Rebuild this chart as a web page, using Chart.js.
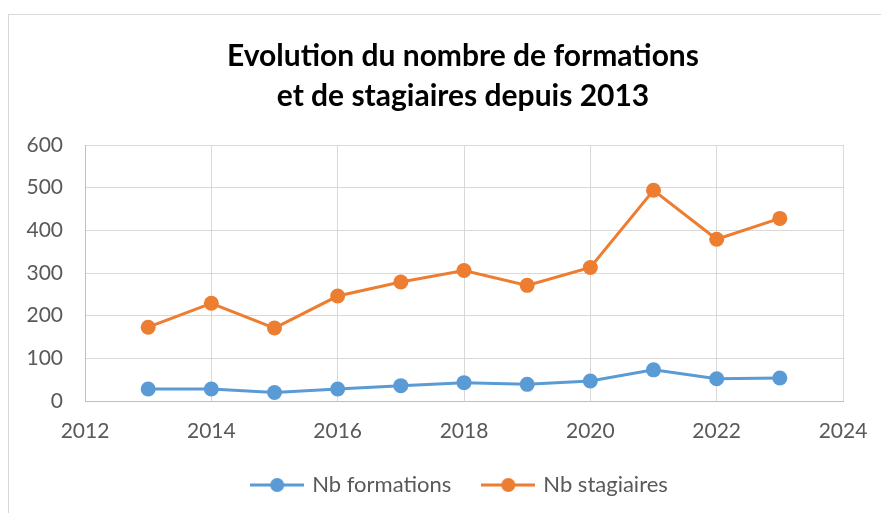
<!DOCTYPE html>
<html>
<head>
<meta charset="utf-8">
<script src="https://cdn.jsdelivr.net/npm/chart.js@4.4.1/dist/chart.umd.min.js"></script>
<style>
  body { margin: 0; background: #fff; }
  #chart { display: block; }
</style>
</head>
<body>
<canvas id="chart" width="881" height="513"></canvas>
<script>
// ---------- DATA ----------
const years = [2013, 2014, 2015, 2016, 2017, 2018, 2019, 2020, 2021, 2022, 2023];
const nbFormations = [28, 28, 20, 28, 36, 43, 39, 47, 73, 52, 54];
const nbStagiaires = [173, 229, 171, 246, 279, 306, 271, 313, 494, 379, 428];
const xTicks = [2012, 2014, 2016, 2018, 2020, 2022, 2024];
const yTicks = [0, 100, 200, 300, 400, 500, 600];
const titleLines = ["Evolution du nombre de formations", "et de stagiaires depuis 2013"];

const BLUE = "#5B9BD5";
const ORANGE = "#ED7D31";
const FONT = "Lato, 'Open Sans', sans-serif";

// ---------- LEGEND MARKER (line + dot) ----------
function legendMarker(color) {
    const c = document.createElement("canvas");
    c.width = 54;
    c.height = 16;
    const g = c.getContext("2d");
    g.strokeStyle = color;
    g.lineWidth = 3;
    g.beginPath();
    g.moveTo(0, 8);
    g.lineTo(54, 8);
    g.stroke();
    g.fillStyle = color;
    g.beginPath();
    g.arc(27, 8, 7, 0, Math.PI * 2);
    g.fill();
    return c;
}

// ---------- OUTER FRAME + CENTERING ----------
const framePlugin = {
    id: "frame",
    afterLayout(chart) {
        // title / legend are centred on the whole frame, not on the padded box
        if (chart.titleBlock) { chart.titleBlock.left = 45; chart.titleBlock.right = 881; }
        if (chart.legend) { chart.legend.left += 10; chart.legend.right += 10; }
    },
    beforeDraw(chart) {
        const ctx = chart.ctx;
        ctx.save();
        ctx.strokeStyle = "#d9d9d9";
        ctx.lineWidth = 1;
        ctx.strokeRect(8.5, 14.5, 900, 600);
        ctx.restore();
    }
};

function toPoints(values) {
    return years.map((y, i) => ({ x: y, y: values[i] }));
}

const ctx = document.getElementById("chart").getContext("2d");

new Chart(ctx, {
    type: "line",
    data: {
        datasets: [
            {
                label: "Nb formations",
                data: toPoints(nbFormations),
                borderColor: BLUE,
                backgroundColor: BLUE,
                borderWidth: 3,
                pointRadius: 7.5,
                pointBorderWidth: 0,
                pointBackgroundColor: BLUE,
                tension: 0
            },
            {
                label: "Nb stagiaires",
                data: toPoints(nbStagiaires),
                borderColor: ORANGE,
                backgroundColor: ORANGE,
                borderWidth: 3,
                pointRadius: 7.5,
                pointBorderWidth: 0,
                pointBackgroundColor: ORANGE,
                tension: 0
            }
        ]
    },
    options: {
        responsive: false,
        animation: false,
        layout: { padding: { left: 20, right: 0, top: 0, bottom: 7 } },
        plugins: {
            title: {
                display: true,
                text: titleLines,
                color: "#000",
                font: { family: FONT, size: 30, weight: "bold", lineHeight: 40 / 30 },
                padding: { top: 36, bottom: 29 }
            },
            legend: {
                position: "bottom",
                labels: {
                    color: "#595959",
                    font: { family: FONT, size: 22 },
                    usePointStyle: true,
                    pointStyleWidth: 48,
                    padding: 33,
                    generateLabels(chart) {
                        return chart.data.datasets.map((ds, i) => ({
                            text: ds.label,
                            fontColor: "#595959",
                            pointStyle: legendMarker(ds.borderColor),
                            lineWidth: 0,
                            strokeStyle: ds.borderColor,
                            fillStyle: ds.borderColor,
                            datasetIndex: i
                        }));
                    }
                }
            },
            tooltip: { enabled: false }
        },
        scales: {
            x: {
                type: "linear",
                min: xTicks[0],
                max: xTicks[xTicks.length - 1],
                afterBuildTicks(scale) {
                    scale.ticks = xTicks.map(v => ({ value: v }));
                },
                afterFit(scale) {
                    scale.height = 40;
                    scale.paddingLeft = 0;
                    scale.paddingRight = 0;
                },
                grid: { color: "#d9d9d9", drawTicks: false },
                border: { color: "#bfbfbf" },
                ticks: {
                    color: "#595959",
                    font: { family: FONT, size: 21 },
                    padding: 18,
                    callback: v => String(v)
                }
            },
            y: {
                min: yTicks[0],
                max: yTicks[yTicks.length - 1],
                afterBuildTicks(scale) {
                    scale.ticks = yTicks.map(v => ({ value: v }));
                },
                afterFit(scale) { scale.width = 65; },
                grid: { color: "#d9d9d9", drawTicks: false },
                border: { color: "#bfbfbf" },
                ticks: {
                    color: "#595959",
                    font: { family: FONT, size: 21 },
                    padding: 22
                }
            },
            yR: {
                position: "right",
                afterFit(scale) { scale.width = 38; },
                grid: { display: false },
                border: { display: false },
                ticks: { display: false }
            }
        }
    },
    plugins: [framePlugin]
});
</script>
</body>
</html>
